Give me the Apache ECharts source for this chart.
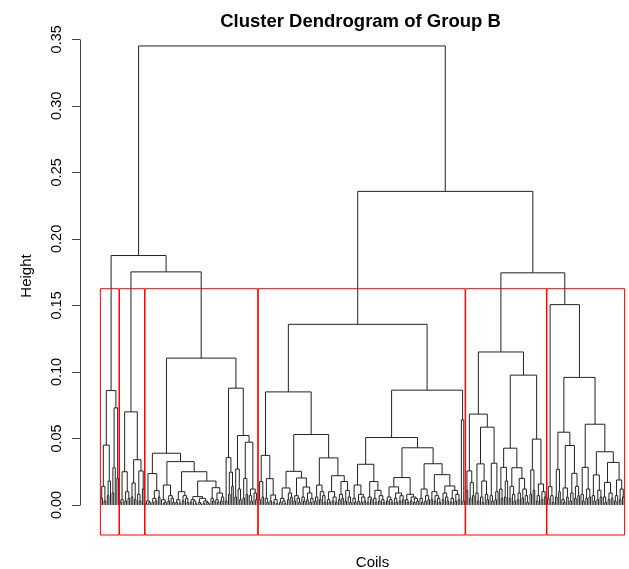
<!DOCTYPE html>
<html>
<head>
<meta charset="utf-8">
<title>Cluster Dendrogram of Group B</title>
<script src="https://cdn.jsdelivr.net/npm/echarts@6/dist/echarts.min.js"></script>
<style>
  html, body { margin: 0; padding: 0; background: #ffffff; }
  #chart { width: 629px; height: 569px; }
</style>
</head>
<body>
<div id="chart"></div>
<script>
// Merge heights are in thousandths. A node is [height, left, right]; a leaf is 0.
const clusterA = [86,
  [45, [14, [5, 0, 0], [3, 0, 0]], [18, [7, 0, 0], 0]],
  [73, [28, [9, 0, 0], 0], [20, 0, 0]]];

const clusterB = [70,
  [25, [4, [2, 0, 0], 0], [10, [3, 0, 0], [5, 0, 0]]],
  [34, [16.5, [6, 0, 0], [4, 0, 0]], [25.6, [8, 0, [3, 0, 0]], [12, 0, 0]]]];

const clusterC = [110.4,
  [38.9,
    [23.6, [3, [1, 0, 0], [2, 0, 0]], [10.8, [5, [2, 0, 0], [3, 0, 0]], [6, 0, 0]]],
    [32.6,
      [15, [4, 0, [2, [1, 0, 0], 0]], [7, [3, 0, 0], [5, 0, [2, 0, 0]]]],
      [25,
        [10, [4, [2, 0, 0], [1, 0, 0]], [7, [3, 0, 0], [5, 0, [2, 0, 0]]]],
        [18,
          [6.3, [4, [2, 0, 0], [3, 0, [1, 0, 0]]], [5, [2, 0, [1, 0, 0]], [3, [1, 0, 0], [2, 0, [1, 0, 0]]]]],
          [13, [5, 0, [3, 0, 0]], [9, [4, 0, [2, 0, 0]], [6, [3, 0, 0], 0]]]]]]],
  [87.8,
    [35.6, [3, 0, 0], [24.6, [8, 0, 0], [14, 0, 0]]],
    [52.2,
      [27, [6, 0, 0], [12, 0, [4, 0, 0]]],
      [47.2, [20, [5, 0, 0], [8, 0, 0]], [12, [7, 0, [3, 0, 0]], [9, 0, [4, 0, 0]]]]]]];

const clusterD = [135.8,
  [85,
    [37.3,
      [17.6, [4, 0, 0], [6, 0, 0]],
      [19.8, [5, 0, [2, 0, 0]], [7.5, [3, 0, 0], [4, [2, 0, 0], [1, 0, 0]]]]],
    [53,
      [25.3,
        [12.8, [5, [2, 0, 0], [3, 0, [1, 0, 0]]], [9, [4, 0, 0], [6, 0, 0]]],
        [20.3, [7, [3, 0, 0], [5, 0, [2, 0, 0]]], [13.5, [6, 0, [3, 0, 0]], [9, [4, 0, 0], [5, [2, 0, 0], 0]]]]],
      [35.4,
        [15, [6, [3, 0, 0], 0], [10, [4, 0, 0], [7, 0, [2, 0, 0]]]],
        [22,
          [10, [4, 0, [2, 0, 0]], [6, [3, 0, 0], [2, 0, 0]]],
          [17.6, [8, [4, 0, 0], [5, 0, 0]], [11, [3, 0, 0], [6, 0, [2, 0, 0]]]]]]]],
  [86.3,
    [50.7,
      [30.6,
        [15, [5, 0, [2, 0, 0]], [8, [3, 0, 0], [6, [2, 0, 0], [3, 0, 0]]]],
        [17.6, [6, [2, 0, 0], [4, 0, 0]], [11, [5, 0, [2, 0, 0]], [7, [3, 0, 0], [4, 0, [2, 0, 0]]]]]],
      [43,
        [20.6,
          [13.6, [6, [3, 0, 0], [4, 0, [2, 0, 0]]], [9, [5, 0, [2, 0, 0]], [7, [3, 0, 0], [4, 0, 0]]]],
          [8, [4, 0, [2, 0, 0]], [6, [3, 0, 0], [5, [2, 0, 0], [3, 0, 0]]]]],
        [31,
          [12, [5, 0, [2, 0, 0]], [7, [3, 0, 0], [4, 0, 0]]],
          [22.8,
            [10, [4, 0, 0], [7, [3, 0, 0], [5, 0, [2, 0, 0]]]],
            [14.3, [9, [4, 0, 0], [6, 0, [3, 0, 0]]], [11, [5, [2, 0, 0], 0], [8, [3, 0, 0], [4, 0, 0]]]]]]]],
    [64, 0, [3, 0, 0]]]];

const clusterE = [115,
  [68.3,
    [25.6, [11, 0, 0], [16.8, [5, 0, 0], [7, 0, 0]]],
    [58.5,
      [30.9, [9, 0, [3, 0, 0]], [18, [6, 0, [2, 0, 0]], [8, 0, [4, 0, 0]]]],
      [31.4, [7, 0, [3, 0, 0]], [10, [4, 0, 0], 0]]]],
  [97.6,
    [42.7,
      [28.3, [12, 0, [5, 0, 0]], [18, [6, 0, 0], 0]],
      [28, [14, [5, 0, 0], [8, 0, [3, 0, 0]]], [20, [9, [4, 0, 0], 0], [12, [5, 0, 0], [7, 0, [2, 0, 0]]]]]],
    [49.5,
      [26.4, [8, 0, 0], [11, 0, 0]],
      [15.8, [7, [3, 0, 0], 0], [10, [4, 0, 0], [6, 0, 0]]]]]];

const clusterF = [150.6,
  [13.8, [5, 0, 0], [7, 0, [2, 0, 0]]],
  [95.9,
    [54.7,
      [26.8, [6, 0, 0], [10, 0, 0]],
      [44.7, [12.8, [4, 0, [2, 0, 0]], [6, 0, 0]], [23.8, [9, [3, 0, 0], 0], [14, [5, 0, 0], [7, 0, 0]]]]],
    [60.7,
      [28.3, [8, 0, [3, 0, 0]], [12, [5, 0, 0], [6, 0, 0]]],
      [40,
        [22.6, [7, 0, [3, 0, 0]], [11, [4, 0, 0], [6, 0, 0]]],
        [32, [17, [6, 0, [2, 0, 0]], [9, [4, 0, 0], [5, 0, 0]]], [18.8, [7, [3, 0, 0], 0], [12, [4, 0, 0], [6, 0, 0]]]]]]]];

// Upper merges: root, {A,{B,C}}, {B,C}, {D,{E,F}}, {E,F}
const upperHeights = [345, 187.5, 175.2, 235.7, 174.5];

const yTicks = [0, 0.05, 0.1, 0.15, 0.2, 0.25, 0.3, 0.35];
const yTickLabels = ['0.00', '0.05', '0.10', '0.15', '0.20', '0.25', '0.30', '0.35'];

const titleText = 'Cluster Dendrogram of Group B';
const xTitle = 'Coils';
const yTitle = 'Height';

// ---- assemble the tree and lay it out like plot.hclust ----
const clusters = [clusterA, clusterB, clusterC, clusterD, clusterE, clusterF];
const tree = [upperHeights[0],
  [upperHeights[1], clusterA, [upperHeights[2], clusterB, clusterC]],
  [upperHeights[3], clusterD, [upperHeights[4], clusterE, clusterF]]];

const merges = [];   // [xLeft, hLeft, xRight, hRight, h]
let leafCount = 0;
function place(node) {
  if (node === 0) { leafCount += 1; return [leafCount, 0]; }
  const l = place(node[1]);
  const r = place(node[2]);
  const h = node[0] / 1000;
  merges.push([l[0], l[1], r[0], r[1], h]);
  return [(l[0] + r[0]) / 2, h];
}
place(tree);
const n = leafCount;

function countLeaves(node) { return node === 0 ? 1 : countLeaves(node[1]) + countLeaves(node[2]); }

// rect.hclust style boxes, k = number of clusters
const k = clusters.length;
const sortedHeights = merges.map(m => m[4]).sort((a, b) => b - a);
const cutHeight = (sortedHeights[k - 2] + sortedHeights[k - 1]) / 2;
const boxes = [];
let cum = 0;
clusters.forEach(c => {
  const size = countLeaves(c);
  boxes.push([cum + 0.66, cum + size + 0.33, cutHeight]);
  cum += size;
});

const xMin = 1 - 0.04 * (n - 1);
const xMax = n + 0.04 * (n - 1);
const yMin = -0.02255;
const yMax = 0.36676;

const chart = echarts.init(document.getElementById('chart'));
const fontFamily = '"Liberation Sans", Arial, Helvetica, sans-serif';

chart.setOption({
  animation: false,
  backgroundColor: '#ffffff',
  title: {
    text: titleText,
    left: 355.5,
    top: 7,
    textAlign: 'center',
    textStyle: { fontFamily, fontSize: 18.5, fontWeight: 'bold', color: '#000000' }
  },
  grid: { left: 80, top: 17, width: 565, height: 518, containLabel: false, outerBoundsMode: 'none' },
  xAxis: {
    type: 'value', min: xMin, max: xMax,
    name: xTitle, nameLocation: 'middle', nameGap: 20,
    nameTextStyle: { fontFamily, fontSize: 15, color: '#000000', padding: [0, 0, 0, 20] },
    axisLine: { show: false, onZero: false }, axisTick: { show: false },
    axisLabel: { show: false }, splitLine: { show: false }
  },
  yAxis: {
    type: 'value', min: yMin, max: yMax,
    name: yTitle, nameLocation: 'middle', nameGap: 46, nameRotate: 90,
    nameTextStyle: { fontFamily, fontSize: 15, color: '#000000' },
    axisLine: { show: false, onZero: false },
    splitLine: { show: false },
    axisTick: { show: true, length: 8, customValues: yTicks, lineStyle: { color: '#444444', width: 1 } },
    axisLabel: {
      customValues: yTicks,
      formatter: v => yTickLabels[yTicks.findIndex(t => Math.abs(t - v) < 1e-9)],
      rotate: 90, margin: 16,
      fontFamily, fontSize: 14.5, color: '#000000'
    }
  },
  series: [
    {
      // dendrogram branches
      type: 'custom',
      coordinateSystem: 'cartesian2d',
      clip: false,
      silent: true,
      data: merges,
      encode: { x: [0, 2], y: [1, 3, 4] },
      renderItem: (params, api) => {
        const xl = api.value(0), hl = api.value(1), xr = api.value(2), hr = api.value(3), h = api.value(4);
        const p1 = api.coord([xl, hl]);
        const p2 = api.coord([xl, h]);
        const p3 = api.coord([xr, h]);
        const p4 = api.coord([xr, hr]);
        return {
          type: 'polyline',
          shape: { points: [p1, p2, p3, p4] },
          style: { stroke: '#222222', lineWidth: 1, fill: null }
        };
      }
    },
    {
      // cluster boxes
      type: 'custom',
      coordinateSystem: 'cartesian2d',
      clip: false,
      silent: true,
      data: boxes,
      encode: { x: [0, 1], y: 2 },
      renderItem: (params, api) => {
        const a = api.coord([api.value(0), api.value(2)]);
        const b = api.coord([api.value(1), yMin]);
        return {
          type: 'rect',
          shape: { x: a[0], y: a[1], width: b[0] - a[0], height: b[1] - a[1] },
          style: { stroke: '#ff0000', lineWidth: 1, fill: null }
        };
      }
    },
    {
      // y axis line, spanning the tick range only
      type: 'custom',
      coordinateSystem: 'cartesian2d',
      clip: false,
      silent: true,
      data: [[yTicks[0], yTicks[yTicks.length - 1]]],
      renderItem: (params, api) => {
        const a = api.coord([xMin, api.value(0)]);
        const b = api.coord([xMin, api.value(1)]);
        const x = Math.round(a[0]) + 0.5;
        return {
          type: 'line',
          shape: { x1: x, y1: Math.round(a[1]) + 0.5, x2: x, y2: Math.round(b[1]) + 0.5 },
          style: { stroke: '#444444', lineWidth: 1 }
        };
      }
    }
  ]
});
</script>
</body>
</html>
